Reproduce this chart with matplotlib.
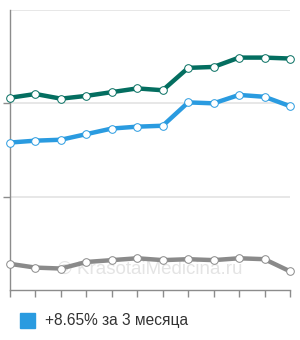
import numpy as np
from matplotlib import pyplot as plt

# values (arbitrary units, grid step = 1)
months = list(range(12))
green = [2.06, 2.10, 2.05, 2.08, 2.12, 2.16, 2.14, 2.38, 2.39, 2.49, 2.49, 2.48]
blue = [1.58, 1.60, 1.61, 1.67, 1.73, 1.75, 1.76, 2.01, 2.00, 2.09, 2.07, 1.97]
grey = [0.28, 0.24, 0.23, 0.30, 0.32, 0.34, 0.32, 0.33, 0.32, 0.34, 0.33, 0.20]
legend_label = "+8.65% за 3 месяца"

plt.rcParams['font.family'] = ['Liberation Sans', 'DejaVu Sans']

fig = plt.figure(figsize=(3.0, 3.4), dpi=100)
ax = fig.add_axes([10 / 300, 1 - 290 / 340, 280 / 300, 280 / 340])

for y in [1, 2, 3]:
    ax.axhline(y, color="#e3e3e3", lw=1.2, zorder=0)

series = [(grey, "#8a8a8a"), (blue, "#2a9be0"), (green, "#046e60")]
for vals, col in series:
    ax.plot(months, vals, color=col, lw=3.2, solid_capstyle="round",
            solid_joinstyle="round", marker="o", ms=5.5, mfc="white",
            mec=col, mew=0.7, clip_on=False, zorder=3)

ax.text(5.5, 0.22, "© KrasotaiMedicina.ru", color="#e4e4e4", fontsize=13.5,
        ha="center", va="center", zorder=1)

ax.set_xlim(0, 11)
ax.set_ylim(0, 3)
ax.set_xticks(months)
ax.set_yticks([1, 2])
ax.set_xticklabels([])
ax.set_yticklabels([])
for s in ["top", "right"]:
    ax.spines[s].set_visible(False)
for s in ["left", "bottom"]:
    ax.spines[s].set_color("#8c8c8c")
    ax.spines[s].set_linewidth(1.0)
ax.tick_params(axis="x", direction="out", length=5, color="#8c8c8c", width=1)
ax.tick_params(axis="y", direction="out", length=5, color="#8c8c8c", width=1)

fig.patches.append(plt.Rectangle((20 / 300, 1 - 328 / 340), 15 / 300, 15 / 340,
                                 transform=fig.transFigure, color="#2a9be0",
                                 figure=fig))
fig.text(45 / 300, 1 - 321 / 340, legend_label, fontsize=11.2, color="#333333",
         va="center", ha="left")

fig.savefig("out.png", dpi=100)
